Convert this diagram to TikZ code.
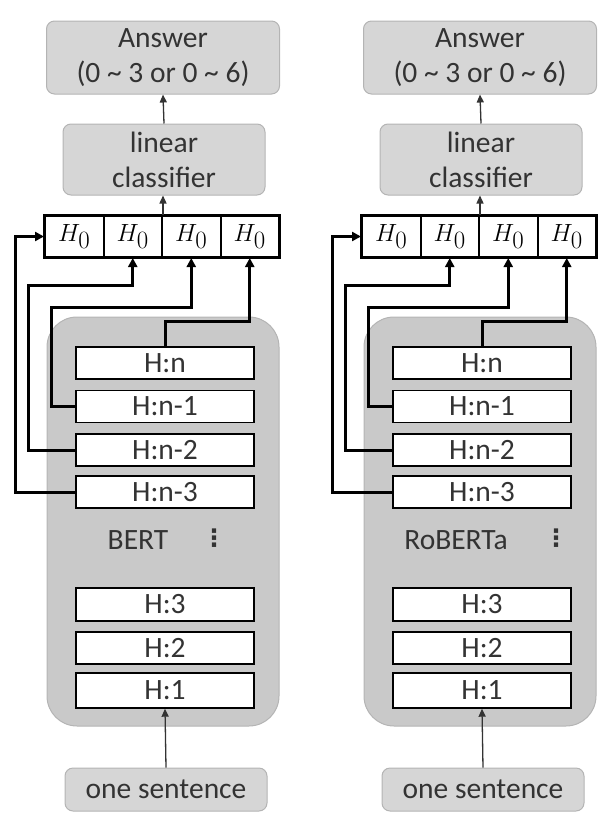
\documentclass[tikz,border=0pt]{standalone}
\usepackage{fontspec}
\setmainfont{Carlito}
\newfontfamily\symfont{DejaVu Sans}
\usetikzlibrary{arrows.meta}
\definecolor{boxgray}{HTML}{D6D6D6}
\definecolor{encgray}{HTML}{C9C9C9}
\definecolor{edgegray}{HTML}{B4B4B4}
\definecolor{txtgray}{HTML}{333333}
\tikzset{
  graybox/.style={draw=edgegray, line width=1pt, fill=boxgray, rounded corners=8pt, align=center, text=txtgray, inner sep=0pt},
  encoder/.style={draw=edgegray, line width=1pt, fill=encgray, rounded corners=30pt, minimum width=232pt, minimum height=409pt},
  layer/.style={draw=black, line width=1.4pt, fill=white, text=txtgray, minimum width=178pt, minimum height=32pt, inner sep=0pt},
  cell/.style={draw=black, line width=2pt, minimum width=58.5pt, minimum height=41pt, inner sep=0pt, font=\fontsize{34}{40}\selectfont},
  link/.style={line width=3pt, -{Triangle[length=9pt,width=9pt]}},
  feed/.style={line width=1.3pt, draw=txtgray, -{Triangle[length=8pt,width=7pt]}}
}
\begin{document}
\begin{tikzpicture}[x=1pt, y=-1pt, font=\fontsize{29.5}{35}\selectfont]
\useasboundingbox (0,0) rectangle (615,819);
\foreach \dx/\model/\mx/\dotx/\s in {0/BERT/138/214/L, 317/RoBERTa/456/239/R} {
\begin{scope}[xshift=\dx pt]
\node[encoder] (enc\s) at (163,521.5) {};
\node[graybox, minimum width=233pt, minimum height=73pt] (ans\s) at (163,57.5) {Answer\\(0 \textasciitilde{} 3 or 0 \textasciitilde{} 6)};
\node[graybox, minimum width=202pt, minimum height=71pt] (cls\s) at (164,159.5) {linear\\classifier};
\node[cell] (h0a\s) at (74.25,236.5) {$H_0$};
\node[cell] (h0b\s) at (132.75,236.5) {$H_0$};
\node[cell] (h0c\s) at (191.25,236.5) {$H_0$};
\node[cell] (h0d\s) at (249.75,236.5) {$H_0$};
\draw[line width=2.8pt] (h0a\s.north west) rectangle (h0d\s.south east);
\node[layer] (hn\s) at (165,363) {H:n};
\node[layer] (hn1\s) at (165,406.5) {H:n-1};
\node[layer] (hn2\s) at (165,450) {H:n-2};
\node[layer] (hn3\s) at (165,492) {H:n-3};
\node[text=txtgray] (name\s) at (\mx-\dx,540) {\model};
\node[text=txtgray, font=\symfont\bfseries\fontsize{24}{28}\selectfont] (dots\s) at (\dotx,538) {⋮};
\node[layer, minimum height=33pt] (h3\s) at (165,604.5) {H:3};
\node[layer] (h2\s) at (165,648) {H:2};
\node[layer, minimum height=35pt] (h1\s) at (165,690.5) {H:1};
\node[graybox, minimum width=202pt, minimum height=43pt] (sent\s) at (166,789.5) {one sentence};
% thin arrows
\draw[feed] (sent\s.north) -- (h1\s.south);
\draw[feed] (h0b\s.north east) -- (h0b\s.north east |- cls\s.south);
\draw[feed] (cls\s.north) -- (ans\s.south);
% layer outputs to the H_0 slots
\draw[link] (hn\s.north) -- ++(0,-24.5) -| (h0d\s.south);
\draw[link] (hn1\s.west) -| ++(-24,-99.5) -| (h0c\s.south);
\draw[link] (hn2\s.west) -| ++(-47,-165) -| (h0b\s.south);
\draw[link] (hn3\s.west) -- ++(-60,0) |- (h0a\s.west);
\end{scope}
}
\end{tikzpicture}
\end{document}
